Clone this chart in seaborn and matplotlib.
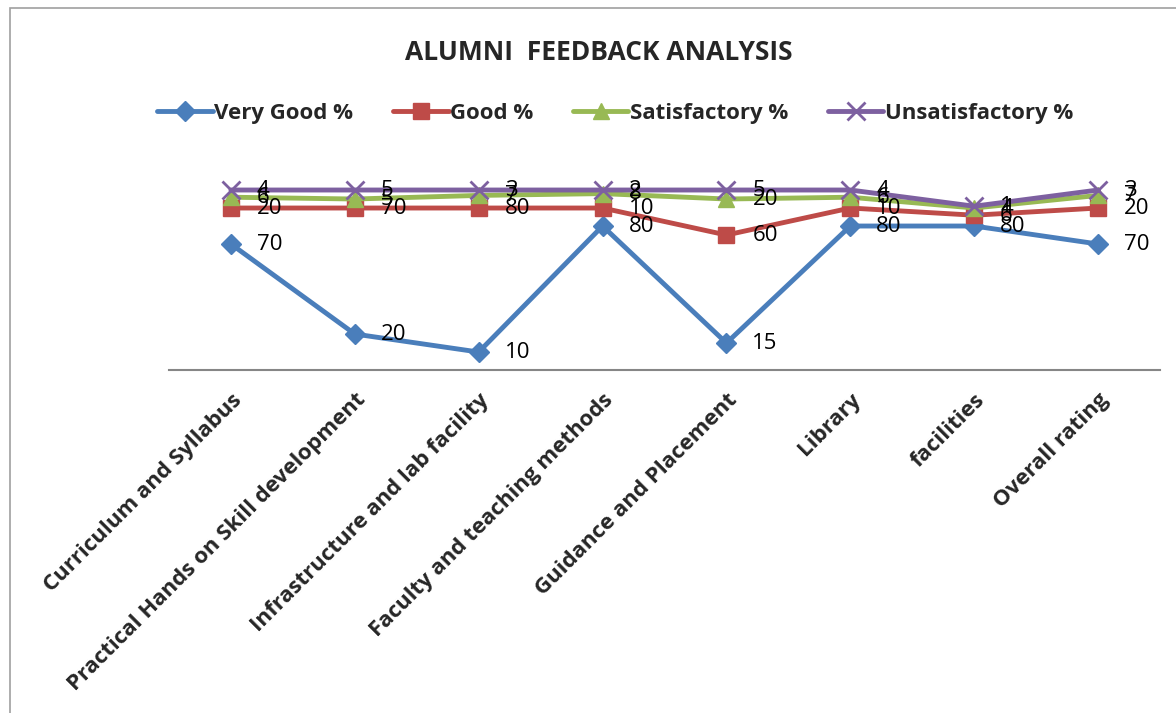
import numpy as np
import pandas as pd
import seaborn as sns
import matplotlib.pyplot as plt
from matplotlib.patches import Rectangle

categories = ["Curriculum and Syllabus", "Practical Hands on Skill development",
              "Infrastructure and lab facility", "Faculty and teaching methods",
              "Guidance and Placement", "Library", "facilities", "Overall rating"]
very_good = [70, 20, 10, 80, 15, 80, 80, 70]
good = [20, 70, 80, 10, 60, 10, 6, 20]
satisfactory = [6, 5, 7, 8, 20, 6, 4, 7]
unsatisfactory = [4, 5, 3, 2, 5, 4, 1, 3]

series = ["Very Good %", "Good %", "Satisfactory %", "Unsatisfactory %"]
values = [very_good, good, satisfactory, unsatisfactory]
colors = ["#4A7EBB", "#BE4B48", "#98B954", "#7D60A0"]
markers = ["D", "s", "^", "x"]
msizes = [10, 12, 12, 13]

sns.set_theme(style="white")
plt.rcParams['font.family'] = ['Open Sans', 'DejaVu Sans']

fig = plt.figure(figsize=(11.76, 7.13), dpi=100)
ax = fig.add_axes([0.1437, 0.481, 0.8427, 0.303])

# stacked line chart: each series drawn on top of the previous ones
x = np.arange(len(categories))
cum = np.zeros(len(categories))
for name, vals, col, mk, ms in zip(series, values, colors, markers, msizes):
    cum = cum + np.array(vals)
    df = pd.DataFrame({"x": x, "y": cum})
    sns.lineplot(data=df, x="x", y="y", ax=ax, color=col, linewidth=3.5,
                 marker=mk, markersize=ms, markeredgecolor=col,
                 markeredgewidth=2 if mk == "x" else 1, label=name)
    for xi, yi, v in zip(x, cum, vals):
        ax.annotate(str(v), (xi, yi), xytext=(26, 0), textcoords="offset pixels",
                    ha="left", va="center", fontsize=16, color="black")

ax.set_xlim(-0.5, len(categories) - 0.5)
ax.set_ylim(0, 120)
ax.set_yticks([])
ax.set_xlabel("")
ax.set_ylabel("")
ax.set_xticks(x)
ax.set_xticklabels(categories, rotation=45, ha="right", va="top",
                   rotation_mode="anchor", fontsize=16, fontweight="bold")
ax.tick_params(axis="x", length=0, pad=14)
for s in ["top", "right", "left"]:
    ax.spines[s].set_visible(False)
ax.spines["bottom"].set_color("#868686")
ax.spines["bottom"].set_linewidth(1.5)

leg = ax.legend(loc="center", bbox_to_anchor=(0.523, 0.8415), bbox_transform=fig.transFigure,
                ncol=4, frameon=False, handlelength=2.5, columnspacing=1.8,
                handletextpad=0.05, prop={"weight": "bold", "size": 16})

fig.text(0.509, 0.927, "ALUMNI  FEEDBACK ANALYSIS", ha="center", va="center",
         fontsize=19, fontweight="bold")

fig.patches.append(Rectangle((10 / 1176, -0.1), 1.2, 1.1 - 8 / 713,
                             transform=fig.transFigure, fill=False,
                             edgecolor="#A0A0A0", linewidth=1.2))

fig.savefig("out.png", dpi=100)
